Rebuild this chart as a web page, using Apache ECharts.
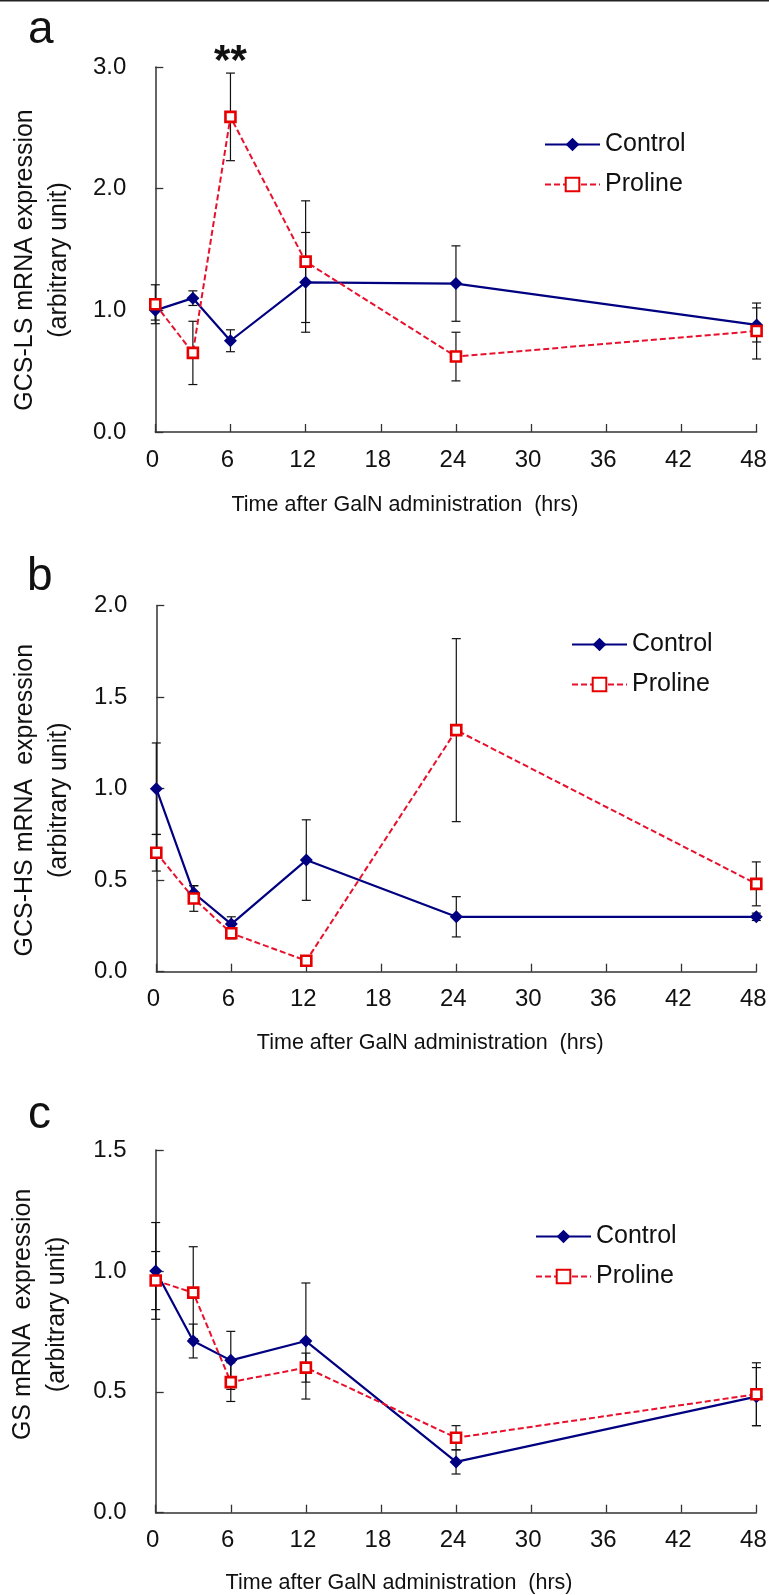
<!DOCTYPE html>
<html>
<head>
<meta charset="utf-8">
<script src="https://cdn.jsdelivr.net/npm/echarts@6/dist/echarts.min.js"></script>
<style>
  html, body { margin: 0; padding: 0; background: #ffffff; }
  #chart { width: 769px; height: 1595px; }
</style>
</head>
<body>
<div id="chart"></div>
<script>
// Sampling times (hours after GalN administration)
const times = [0, 3, 6, 12, 24, 48];
const xTicks = [0, 6, 12, 18, 24, 30, 36, 42, 48];

// (a) GCS-LS mRNA, mean and SE
const controlA    = [1.00, 1.10, 0.75, 1.23, 1.22, 0.88];
const controlErrA = [0.08, 0.06, 0.09, 0.41, 0.31, 0.14];
const prolineA    = [1.05, 0.65, 2.59, 1.40, 0.62, 0.83];
const prolineErrA = [0.16, 0.26, 0.36, 0.50, 0.20, 0.23];
const yTicksA = [0.0, 1.0, 2.0, 3.0];

// (b) GCS-HS mRNA, mean and SE
const controlB    = [1.00, 0.43, 0.26, 0.61, 0.30, 0.30];
const controlErrB = [0.25, 0.04, 0.04, 0.22, 0.11, 0.02];
const prolineB    = [0.65, 0.40, 0.21, 0.06, 1.32, 0.48];
const prolineErrB = [0.10, 0.07, 0.03, 0.01, 0.50, 0.12];
const yTicksB = [0.0, 0.5, 1.0, 1.5, 2.0];

// (c) GS mRNA, mean and SE
const controlC    = [1.00, 0.71, 0.63, 0.71, 0.21, 0.48];
const controlErrC = [0.20, 0.07, 0.12, 0.24, 0.05, 0.12];
const prolineC    = [0.96, 0.91, 0.54, 0.60, 0.31, 0.49];
const prolineErrC = [0.12, 0.19, 0.08, 0.06, 0.05, 0.13];
const yTicksC = [0.0, 0.5, 1.0, 1.5];

const seriesNames = ['Control', 'Proline'];
const xTitle = 'Time after GalN administration  (hrs)';

const FONT = '"Liberation Sans", Arial, Helvetica, sans-serif';
const INK = '#111111';
const NAVY = '#000080';
const RED_LINE = '#e8112d';
const RED_MARK = '#e60000';

const panels = [
  {
    letter: 'a', letterTop: 7.5, letterLeft: 28,
    yName: 'GCS-LS mRNA expression\n(arbitrary unit)', yNamePad: [0, 21, 0, 0], yNameGap: 79,
    yTicks: yTicksA,
    control: controlA, controlErr: controlErrA, proline: prolineA, prolineErr: prolineErrA,
    grid: { left: 155.3, top: 67, width: 601.3, height: 365 },
    xNameGap: 62, xNamePad: [0, 102, 0, 0],
    legend: { left: 544, top: 132 },
    star: 2
  },
  {
    letter: 'b', letterTop: 554.5, letterLeft: 27,
    yName: 'GCS-HS mRNA  expression\n(arbitrary unit)', yNamePad: [0, 23, 0, 0], yNameGap: 80,
    yTicks: yTicksB,
    control: controlB, controlErr: controlErrB, proline: prolineB, prolineErr: prolineErrB,
    grid: { left: 156.3, top: 605.7, width: 600, height: 366 },
    xNameGap: 60, xNamePad: [0, 52, 0, 0],
    legend: { left: 571, top: 632 },
    star: -1
  },
  {
    letter: 'c', letterTop: 1092.5, letterLeft: 28,
    yName: 'GS mRNA  expression\n(arbitrary unit)', yNamePad: [0, 0, 0, 34], yNameGap: 82,
    yTicks: yTicksC,
    control: controlC, controlErr: controlErrC, proline: prolineC, prolineErr: prolineErrC,
    grid: { left: 155.7, top: 1150, width: 600.7, height: 362.7 },
    xNameGap: 59, xNamePad: [0, 114, 0, 0],
    legend: { left: 535, top: 1224 },
    star: -1
  }
];

// Vertical mean ± SE bars with short caps
function renderErrorBar(params, api) {
  const x = api.value(0);
  const m = api.value(1);
  const e = api.value(2);
  if (!(e > 0)) return null;
  const hi = api.coord([x, m + e]);
  const lo = api.coord([x, m - e]);
  const w = 4.5;
  const style = { stroke: INK, lineWidth: 1.2 };
  return {
    type: 'group',
    children: [
      { type: 'line', shape: { x1: hi[0], y1: hi[1], x2: lo[0], y2: lo[1] }, style },
      { type: 'line', shape: { x1: hi[0] - w, y1: hi[1], x2: hi[0] + w, y2: hi[1] }, style },
      { type: 'line', shape: { x1: lo[0] - w, y1: lo[1], x2: lo[0] + w, y2: lo[1] }, style }
    ]
  };
}

const grids = [], xAxes = [], yAxes = [], series = [], legends = [], graphics = [];

panels.forEach((p, i) => {
  grids.push(Object.assign({ outerBoundsMode: 'none', containLabel: false }, p.grid));

  xAxes.push({
    type: 'value', gridIndex: i,
    min: xTicks[0], max: xTicks[xTicks.length - 1], interval: xTicks[1] - xTicks[0],
    name: xTitle, nameLocation: 'middle', nameGap: p.xNameGap,
    nameTextStyle: { fontFamily: FONT, fontSize: 21.5, color: INK, padding: p.xNamePad },
    axisLine: { show: true, lineStyle: { color: '#333', width: 1.5 } },
    axisTick: { show: true, inside: true, length: 8, lineStyle: { color: '#333', width: 1.3 } },
    axisLabel: { fontFamily: FONT, fontSize: 24, color: INK, margin: 16, padding: [0, 6, 0, 0] },
    splitLine: { show: false }
  });

  const yMax = p.yTicks[p.yTicks.length - 1];
  yAxes.push({
    type: 'value', gridIndex: i,
    min: p.yTicks[0], max: yMax, interval: p.yTicks[1] - p.yTicks[0],
    name: p.yName, nameLocation: 'middle', nameGap: p.yNameGap,
    nameTextStyle: { fontFamily: FONT, fontSize: 25, lineHeight: 34, color: INK, padding: p.yNamePad, align: 'center' },
    axisLine: { show: true, lineStyle: { color: '#333', width: 1.5 } },
    axisTick: { show: true, inside: true, length: 8, lineStyle: { color: '#333', width: 1.3 } },
    axisLabel: { fontFamily: FONT, fontSize: 24, color: INK, margin: 29, formatter: v => v.toFixed(1) },
    splitLine: { show: false }
  });

  const ctrlData = times.map((t, k) => [t, p.control[k], p.controlErr[k]]);
  const proData = times.map((t, k) => [t, p.proline[k], p.prolineErr[k]]);

  series.push({
    type: 'custom', xAxisIndex: i, yAxisIndex: i, z: 1,
    renderItem: renderErrorBar, data: ctrlData, encode: { x: 0, y: 1 }, silent: true
  });
  series.push({
    type: 'custom', xAxisIndex: i, yAxisIndex: i, z: 1,
    renderItem: renderErrorBar, data: proData, encode: { x: 0, y: 1 }, silent: true
  });

  series.push({
    name: seriesNames[0], type: 'line', xAxisIndex: i, yAxisIndex: i, z: 3,
    data: times.map((t, k) => [t, p.control[k]]),
    symbol: 'diamond', symbolSize: 13,
    lineStyle: { color: NAVY, width: 2.2 },
    itemStyle: { color: NAVY, borderColor: NAVY, borderWidth: 0 },
    emphasis: { disabled: true }
  });

  const pro = {
    name: seriesNames[1], type: 'line', xAxisIndex: i, yAxisIndex: i, z: 4,
    data: times.map((t, k) => [t, p.proline[k]]),
    symbol: 'rect', symbolSize: 10,
    lineStyle: { color: RED_LINE, width: 2, type: [6, 3] },
    itemStyle: { color: '#ffffff', borderColor: RED_MARK, borderWidth: 2.6 },
    emphasis: { disabled: true }
  };
  if (p.star >= 0) {
    const k = p.star;
    pro.markPoint = {
      symbol: 'circle', symbolSize: 1,
      itemStyle: { color: 'rgba(0,0,0,0)' },
      label: { show: true, formatter: '**', position: 'inside', offset: [0, -11],
               fontFamily: FONT, fontSize: 42, fontWeight: 'bold', color: INK },
      data: [{ coord: [times[k], p.proline[k] + p.prolineErr[k]] }]
    };
  }
  series.push(pro);

  legends.push({
    show: true, orient: 'vertical', left: p.legend.left, top: p.legend.top,
    data: seriesNames, selectedMode: false,
    itemWidth: 55, itemHeight: 17, itemGap: 15, padding: 0,
    textStyle: { fontFamily: FONT, fontSize: 25, color: INK }
  });

  graphics.push({
    type: 'text', left: p.letterLeft, top: p.letterTop,
    style: { text: p.letter, font: '46px ' + FONT, fill: INK }
  });
});

// thin frame line along the top edge
graphics.push({ type: 'rect', left: 0, top: 0, shape: { width: 769, height: 1.5 }, style: { fill: '#222' } });

const chart = echarts.init(document.getElementById('chart'), null, { renderer: 'canvas' });
chart.setOption({
  animation: false,
  backgroundColor: '#ffffff',
  grid: grids,
  xAxis: xAxes,
  yAxis: yAxes,
  legend: legends,
  series: series,
  graphic: graphics
});
</script>
</body>
</html>
